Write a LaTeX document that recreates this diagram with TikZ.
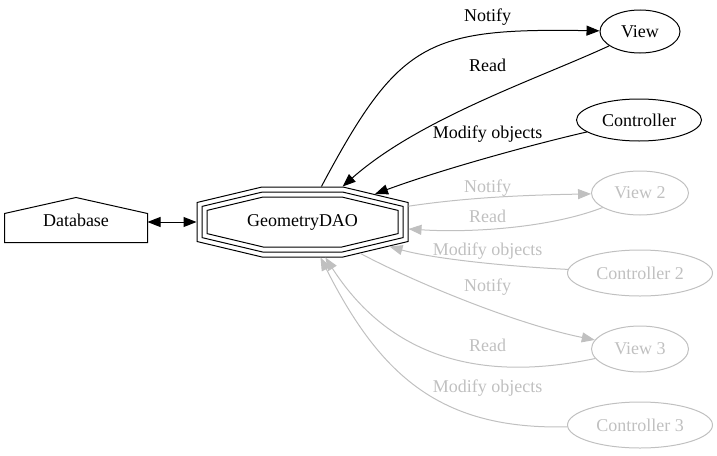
\documentclass[tikz,border=0pt]{standalone}
\usepackage{fontspec}
\setmainfont{Liberation Serif}
\usepackage{xcolor}
\usepackage{tikz}
\usetikzlibrary{arrows.meta,calc,shapes.geometric}
\definecolor{mutedgray}{HTML}{C0C0C0}

\begin{document}
\begin{tikzpicture}[x=1pt,y=-1pt,line width=1pt,
  every node/.style={font=\fontsize{18}{21}\selectfont,inner sep=0pt},
  role/.style={draw,ellipse},
  lbl/.style={anchor=base},
  flow/.style={-{Triangle[length=13pt,width=10pt]}},
  muted/.style={draw=mutedgray},
  mutedtext/.style={text=mutedgray}]
\useasboundingbox (0,0) rectangle (717,455);
% storage
\node[minimum width=142pt,minimum height=44pt] (db) at (76,220) {Database};
\draw (db.south west) -- ($(db.north west)+(0,16)$) -- (db.north) -- ($(db.north east)+(0,16)$) -- (db.south east) -- cycle;
% data access object, three outlines
\node[minimum width=211pt,minimum height=70pt] (dao) at (302.5,222) {GeometryDAO};
\foreach \hw/\hh/\tw/\sh in {105.5/35/40.5/19.5, 100.5/30/39.9/15.6, 95.5/25/39.3/11.6}
  \draw[shift={(dao.center)}] (-\hw,-\sh) -- (-\tw,-\hh) -- (\tw,-\hh) -- (\hw,-\sh) -- (\hw,\sh) -- (\tw,\hh) -- (-\tw,\hh) -- (-\hw,\sh) -- cycle;
% clients
\node[role,minimum width=80pt,minimum height=43pt] (view) at (640,31.5) {View};
\node[role,minimum width=125pt,minimum height=42pt] (ctrl) at (639,120) {Controller};
\node[role,muted,mutedtext,minimum width=97pt,minimum height=44pt] (view2) at (640,193) {View 2};
\node[role,muted,mutedtext,minimum width=145pt,minimum height=46pt] (ctrl2) at (640,273) {Controller 2};
\node[role,muted,mutedtext,minimum width=97pt,minimum height=46pt] (view3) at (640,349) {View 3};
\node[role,muted,mutedtext,minimum width=145pt,minimum height=46pt] (ctrl3) at (640,425) {Controller 3};
% labels
\node[lbl] (lnotify) at (487.5,21) {Notify};
\node[lbl] (lread) at (487.5,71) {Read};
\node[lbl] (lmodify) at (487.5,138.5) {Modify objects};
\node[lbl,mutedtext] (lnotify2) at (487.5,192.5) {Notify};
\node[lbl,mutedtext] (lread2) at (487.5,222.5) {Read};
\node[lbl,mutedtext] (lmodify2) at (487.5,255) {Modify objects};
\node[lbl,mutedtext] (lnotify3) at (487.5,291.5) {Notify};
\node[lbl,mutedtext] (lread3) at (487.5,351.5) {Read};
\node[lbl,mutedtext] (lmodify3) at (487.5,392) {Modify objects};
% edges
\draw[{Triangle[length=13pt,width=10pt]}-{Triangle[length=13pt,width=10pt]}] (db.east |- dao) -- (dao);
\draw[flow] (dao) .. controls (399,41) and (427,28) .. (view);
\draw[flow] (view) .. controls (540,78) and (420,118) .. (dao);
\draw[flow] (ctrl) .. controls (530,145) and (440,170) .. ($(dao.north east)+(-33.5,7.5)$);
\draw[flow,muted] (dao) .. controls (470,197) and (530,195) .. (view2);
\draw[flow,muted] (view2) .. controls (550,228) and (470,233) .. (dao);
\draw[flow,muted] (ctrl2) .. controls (500,266) and (430,258) .. ($(dao.south east)+(-19,-11)$);
\draw[flow,muted] ($(dao.south east)+(-48,-4)$) .. controls (420,285) and (520,325) .. (view3);
\draw[flow,muted] (view3) .. controls (470,385) and (385,350) .. (dao);
\draw[flow,muted] (ctrl3) .. controls (440,430) and (380,375) .. (dao);
\end{tikzpicture}
\end{document}
